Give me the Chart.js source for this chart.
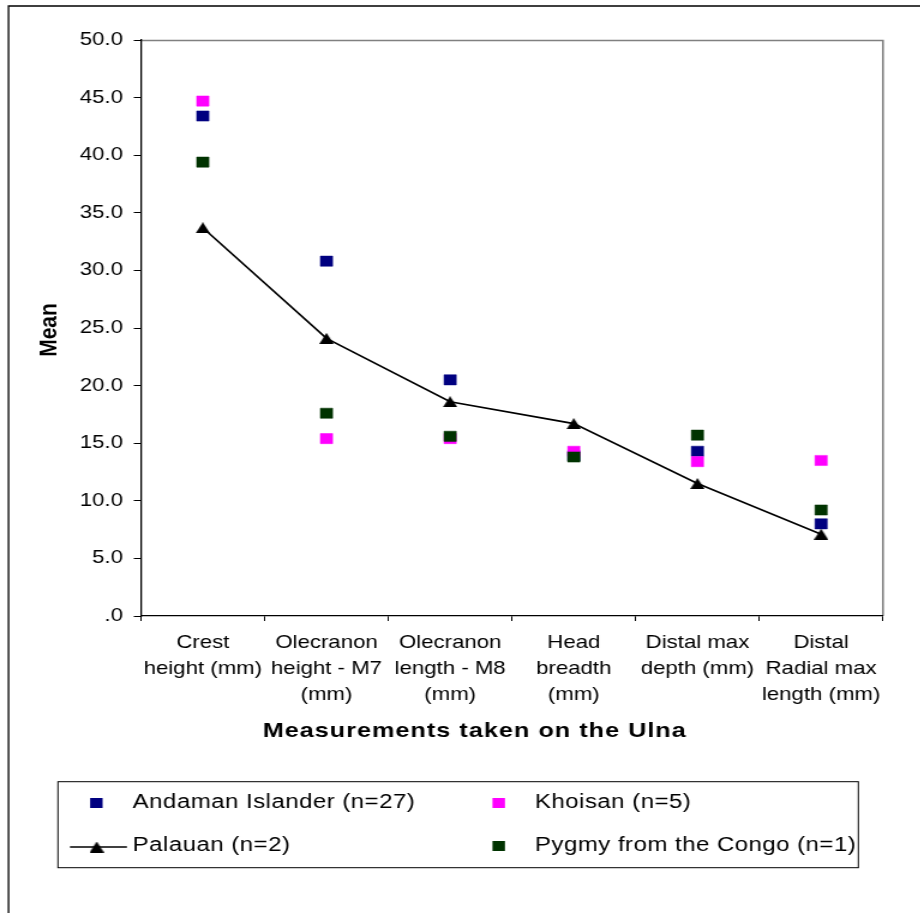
<!DOCTYPE html>
<html>
<head>
<meta charset="utf-8">
<script src="https://cdn.jsdelivr.net/npm/chart.js@4/dist/chart.umd.min.js"></script>
<style>
  html, body { margin: 0; padding: 0; background: #fff; overflow: hidden; }
  #wrap {
    position: absolute; left: 0; top: 0;
    width: 767px; height: 913px;
    transform: scaleX(1.2); transform-origin: 0 0;
  }
</style>
</head>
<body>
<div id="wrap"><canvas id="chart"></canvas></div>
<script>
// Ulna measurements: category labels (multi-line) and mean values per group
const categories = [
  ['Crest', 'height (mm)'],
  ['Olecranon', 'height - M7', '(mm)'],
  ['Olecranon', 'length - M8', '(mm)'],
  ['Head', 'breadth', '(mm)'],
  ['Distal max', 'depth (mm)'],
  ['Distal', 'Radial max', 'length (mm)']
];
const andaman = [43.4, 30.8, 20.5, 13.9, 14.3, 8.0];
const khoisan = [44.7, 15.4, 15.4, 14.3, 13.4, 13.5];
const palauan = [33.7, 24.1, 18.6, 16.7, 11.5, 7.1];
const pygmy   = [39.4, 17.6, 15.6, 13.8, 15.7, 9.2];
const seriesNames = ['Andaman Islander (n=27)', 'Khoisan (n=5)', 'Palauan (n=2)', 'Pygmy from the Congo (n=1)'];
const seriesColors = ['#000080', '#FF00FF', '#000000', '#003300'];
const yTickLabels = ['.0', '5.0', '10.0', '15.0', '20.0', '25.0', '30.0', '35.0', '40.0', '45.0', '50.0'];
const xTitle = 'Measurements taken on the Ulna';
const yTitle = 'Mean';

const FONT = '"Liberation Sans", Arial, Helvetica, sans-serif';

// Triangle marker centred on its bounding box
function makeTriangle(w, h, color) {
  const c = document.createElement('canvas');
  c.width = w; c.height = h;
  const g = c.getContext('2d');
  g.fillStyle = color;
  g.beginPath();
  g.moveTo(w / 2, 0);
  g.lineTo(w, h);
  g.lineTo(0, h);
  g.closePath();
  g.fill();
  return c;
}
const triangle = makeTriangle(12, 11, '#000');

function squareSeries(i, values, order) {
  return {
    label: seriesNames[i],
    data: values,
    showLine: false,
    pointStyle: 'rect',
    pointRadius: 7.2,
    pointBackgroundColor: seriesColors[i],
    pointBorderColor: seriesColors[i],
    pointBorderWidth: 0.5,
    borderColor: seriesColors[i],
    backgroundColor: seriesColors[i],
    order: order
  };
}

// Frame, axis titles and the boxed two-column legend
const decorations = {
  id: 'decorations',
  beforeDraw(chart) {
    const { ctx, chartArea: a, width, height } = chart;
    ctx.save();
    ctx.fillStyle = '#fff';
    ctx.fillRect(0, 0, width, height);
    ctx.strokeStyle = '#000';
    ctx.lineWidth = 1.3;
    ctx.beginPath();
    ctx.moveTo(7.1, height + 5);
    ctx.lineTo(7.1, 6);
    ctx.lineTo(width + 5, 6);
    ctx.stroke();
    ctx.strokeStyle = '#808080';
    ctx.lineWidth = 1.6;
    ctx.beginPath();
    ctx.moveTo(a.left, a.top + 0.5);
    ctx.lineTo(a.right, a.top + 0.5);
    ctx.lineTo(a.right, a.bottom);
    ctx.stroke();
    ctx.restore();
  },
  afterDraw(chart) {
    const { ctx } = chart;
    ctx.save();
    ctx.fillStyle = '#000';

    // y title
    ctx.font = 'bold 21px ' + FONT;
    ctx.textAlign = 'center';
    ctx.textBaseline = 'middle';
    ctx.save();
    ctx.translate(41, 330);
    ctx.rotate(-Math.PI / 2);
    ctx.fillText(yTitle, 0, 0);
    ctx.restore();

    // x title
    ctx.letterSpacing = '0.85px';
    ctx.fillText(xTitle, 395.6, 731.5);
    ctx.letterSpacing = '0px';

    // legend box
    ctx.strokeStyle = '#000';
    ctx.lineWidth = 1;
    ctx.strokeRect(48.3, 781.7, 667, 86);

    const ds = chart.data.datasets;
    const slots = [
      { mx: 80.3, tx: 110.6, y: 803 },
      { mx: 415.6, tx: 445.8, y: 803 },
      { mx: 80.6, tx: 110.6, y: 846 },
      { mx: 415.6, tx: 445.8, y: 846 }
    ];
    ctx.font = '20px ' + FONT;
    ctx.textAlign = 'left';
    ctx.letterSpacing = '0.4px';
    ds.forEach((d, i) => {
      const s = slots[i];
      if (d.pointStyle === 'rect') {
        ctx.fillStyle = d.pointBackgroundColor;
        ctx.fillRect(s.mx - 5.2, s.y - 5, 10.4, 10);
      } else {
        ctx.strokeStyle = d.borderColor;
        ctx.lineWidth = 1.6;
        ctx.beginPath();
        ctx.moveTo(58.3, s.y + 1);
        ctx.lineTo(105.8, s.y + 1);
        ctx.stroke();
        ctx.drawImage(triangle, s.mx - 6, s.y + 1 - 5.5);
      }
      ctx.fillStyle = '#000';
      ctx.fillText(d.label, s.tx, s.y - 1);
    });
    ctx.restore();
  }
};

new Chart(document.getElementById('chart'), {
  type: 'line',
  data: {
    labels: categories,
    datasets: [
      squareSeries(0, andaman, 4),
      squareSeries(1, khoisan, 3),
      {
        label: seriesNames[2],
        data: palauan,
        showLine: true,
        borderColor: '#000',
        backgroundColor: '#000',
        borderWidth: 1.7,
        tension: 0,
        pointStyle: triangle,
        pointRadius: 6,
        order: 2
      },
      squareSeries(3, pygmy, 1)
    ]
  },
  options: {
    responsive: true,
    maintainAspectRatio: false,
    animation: false,
    events: [],
    layout: { padding: { left: 10, top: 40, right: 31.2, bottom: 163 } },
    plugins: { legend: { display: false }, tooltip: { enabled: false } },
    scales: {
      x: {
        offset: true,
        grid: { display: true, offset: true, drawOnChartArea: false, drawTicks: true, tickLength: 5, color: '#000' },
        border: { display: true, color: '#000', width: 1.3 },
        ticks: {
          autoSkip: false, maxRotation: 0, minRotation: 0, padding: 9, color: '#000',
          font: { family: FONT, size: 18.5, lineHeight: 1.4 }
        },
        afterFit(scale) { scale.height = 134; }
      },
      y: {
        min: 0, max: 50,
        grid: { display: true, drawOnChartArea: false, drawTicks: true, tickLength: 6, color: '#000' },
        border: { display: true, color: '#000', width: 1.3 },
        ticks: {
          stepSize: 5, padding: 9, color: '#000',
          font: { family: FONT, size: 18.5 },
          callback: (v, i) => yTickLabels[i]
        },
        afterFit(scale) { scale.width = 107.5; }
      }
    }
  },
  plugins: [decorations]
});
</script>
</body>
</html>
